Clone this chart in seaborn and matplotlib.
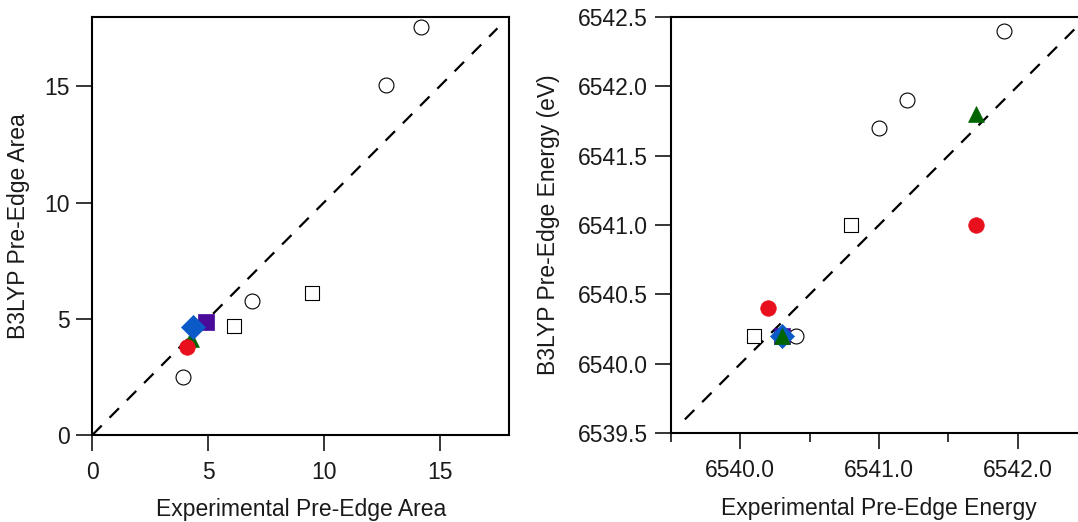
import numpy as np
import pandas as pd
import matplotlib
matplotlib.use("Agg")
import matplotlib.pyplot as plt
import seaborn as sns
from matplotlib.ticker import MultipleLocator

sns.set_theme(style="ticks")
plt.rcParams['font.family'] = ['Liberation Sans', 'DejaVu Sans']

# ---- Left panel data: pre-edge area ----
area_open_circle_x = [14.2, 12.7, 6.9, 3.9]
area_open_circle_y = [17.55, 15.05, 5.78, 2.5]
area_open_square_x = [9.5, 6.1]
area_open_square_y = [6.1, 4.7]
area_purple_x = [4.93]
area_purple_y = [4.88]
area_green_x = [4.25]
area_green_y = [4.15]
area_blue_x = [4.33]
area_blue_y = [4.63]
area_red_x = [4.1]
area_red_y = [3.8]

# ---- Right panel data: pre-edge energy (eV) ----
en_open_circle_x = [6541.9, 6541.2, 6541.0, 6540.4]
en_open_circle_y = [6542.4, 6541.9, 6541.7, 6540.2]
en_open_square_x = [6540.8, 6540.1]
en_open_square_y = [6541.0, 6540.2]
en_purple_x = [6540.3]
en_purple_y = [6540.2]
en_blue_x = [6540.3]
en_blue_y = [6540.2]
en_green_x = [6541.7, 6540.3]
en_green_y = [6541.8, 6540.2]
en_red_x = [6541.7, 6540.2]
en_red_y = [6541.0, 6540.4]

area_ticks = [0, 5, 10, 15]
energy_yticks = [6539.5, 6540.0, 6540.5, 6541.0, 6541.5, 6542.0, 6542.5]
energy_xticks = [6540.0, 6541.0, 6542.0]

RED = '#e8101c'
GREEN = '#006400'
BLUE = '#0a5ac8'
PURPLE = '#4a0a9a'

W, H = 1078, 522
fig = plt.figure(figsize=(W / 100, H / 100), dpi=100)
axL = fig.add_axes([92.3 / W, (H - 435) / H, (509 - 92.3) / W, (435 - 16.7) / H])
axR = fig.add_axes([671 / W, (H - 433.3) / H, (1087 - 671) / W, (433.3 - 16.7) / H])


def scatter(ax, x, y, marker, size, face, edge, lw, z):
    df = pd.DataFrame({'x': x, 'y': y})
    sns.scatterplot(data=df, x='x', y='y', ax=ax, marker=marker, s=size,
                    color=face, edgecolor=edge, linewidth=lw, zorder=z,
                    legend=False)


def style(ax):
    for sp in ax.spines.values():
        sp.set_linewidth(1.5)
        sp.set_color('black')
        sp.set_visible(True)
    ax.tick_params(axis='both', which='major', direction='out', length=11.5,
                   width=1.1, color='black', labelsize=16.5,
                   labelcolor='#1a1a1a')
    ax.tick_params(axis='x', which='major', pad=7)
    ax.tick_params(axis='y', which='major', pad=5)
    ax.tick_params(axis='both', which='minor', direction='out', length=6.5,
                   width=1.1, color='black')
    ax.grid(False)


# Left panel
line = np.array([0, 17.5])
axL.plot(line, line, color='black', lw=1.6, ls=(0, (6, 5)), zorder=1)
scatter(axL, area_open_circle_x, area_open_circle_y, 'o', 115, 'white', 'black', 0.8, 3)
scatter(axL, area_open_square_x, area_open_square_y, 's', 115, 'white', 'black', 0.8, 3)
scatter(axL, area_purple_x, area_purple_y, 's', 125, PURPLE, PURPLE, 0.5, 4)
scatter(axL, area_green_x, area_green_y, '^', 130, GREEN, GREEN, 0.5, 5)
scatter(axL, area_blue_x, area_blue_y, 'D', 150, BLUE, BLUE, 0.5, 6)
scatter(axL, area_red_x, area_red_y, 'o', 125, RED, RED, 0.5, 7)
axL.set_xlim(0, 18)
axL.set_ylim(0, 18)
axL.set_xticks(area_ticks)
axL.set_yticks(area_ticks)
axL.set_xticklabels([str(t) for t in area_ticks])
axL.set_yticklabels([str(t) for t in area_ticks])
style(axL)
axL.set_xlabel('Experimental Pre-Edge Area', fontsize=16.5, color='#1a1a1a', labelpad=10.5)
axL.set_ylabel('B3LYP Pre-Edge Area', fontsize=16.5, color='#1a1a1a', labelpad=10)

# Right panel
line2 = np.array([6539.6, 6542.5])
axR.plot(line2, line2, color='black', lw=1.6, ls=(0, (6, 5)), zorder=1)
scatter(axR, en_open_circle_x, en_open_circle_y, 'o', 115, 'white', 'black', 0.8, 3)
scatter(axR, en_open_square_x, en_open_square_y, 's', 115, 'white', 'black', 0.8, 3)
scatter(axR, en_red_x, en_red_y, 'o', 125, RED, RED, 0.5, 4)
scatter(axR, en_purple_x, en_purple_y, 's', 125, PURPLE, PURPLE, 0.5, 4)
scatter(axR, en_blue_x, en_blue_y, 'D', 150, BLUE, BLUE, 0.5, 5)
scatter(axR, en_green_x, en_green_y, '^', 130, GREEN, GREEN, 0.5, 6)
axR.set_xlim(6539.5, 6542.5)
axR.set_ylim(6539.5, 6542.5)
axR.set_xticks(energy_xticks)
axR.set_xticklabels([f'{t:.1f}' for t in energy_xticks])
axR.xaxis.set_minor_locator(MultipleLocator(0.5))
axR.set_yticks(energy_yticks)
axR.set_yticklabels([f'{t:.1f}' for t in energy_yticks])
style(axR)
axR.set_xlabel('Experimental Pre-Edge Energy', fontsize=16.5, color='#1a1a1a', labelpad=10.5)
axR.set_ylabel('B3LYP Pre-Edge Energy (eV)', fontsize=16.5, color='#1a1a1a', labelpad=13)

fig.savefig('out.png', dpi=100)
